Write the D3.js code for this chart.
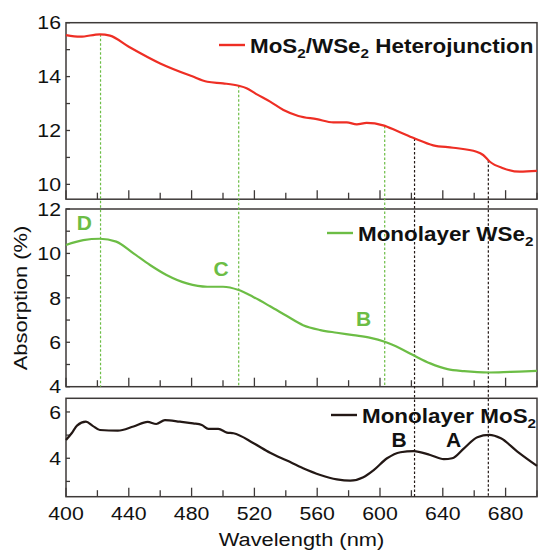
<!DOCTYPE html>
<html><head><meta charset="utf-8">
<script src="https://cdn.jsdelivr.net/npm/d3@7"></script>
<style>body{margin:0;background:#fff}svg{display:block}text{font-family:"Liberation Sans",Arial,sans-serif}</style>
</head><body><svg id="c" width="538" height="551"></svg>
<script>
// ---- data ----
const heteroWl = [400,409,421.6,428,440,460,480,490,500,510,515,521,530,538.5,548,559.7,570.3,578.8,585.2,591.5,602,610.6,621.8,633.9,646.6,661.5,665.7,670,678.4,689,700];
const heteroAbs = [15.54,15.48,15.57,15.52,15.11,14.49,14.02,13.81,13.75,13.66,13.57,13.36,13.07,12.76,12.54,12.42,12.30,12.30,12.23,12.28,12.19,11.99,11.71,11.45,11.36,11.21,11.09,10.84,10.60,10.47,10.50];
const wse2Wl = [400,411,421.6,432,443,453.5,464,477,490,500,510,519,530,540.7,551,562,572.5,583,594,603,613,622,632,643,653.5,669.5,683,700];
const wse2Abs = [10.38,10.60,10.66,10.53,10.0,9.48,9.03,8.65,8.50,8.50,8.35,8.05,7.62,7.18,6.77,6.55,6.43,6.32,6.20,6.02,5.72,5.39,5.05,4.79,4.70,4.64,4.67,4.71];
const mos2Wl = [400,403.6,407,412.7,417,421.6,433,443,452,457.5,463,472.6,481,486.5,490.7,497,502.5,506.7,519.5,530,540.7,551,562,572.5,581,589.4,596,604.5,613,621.5,632,640.7,646,653.5,662,669.5,677,687.5,700];
const mos2Abs = [4.79,5.08,5.41,5.58,5.40,5.22,5.19,5.37,5.57,5.48,5.65,5.58,5.51,5.44,5.27,5.27,5.11,5.08,4.65,4.24,3.90,3.57,3.28,3.09,3.03,3.18,3.49,4.0,4.26,4.31,4.14,3.96,4.0,4.43,4.91,5.01,4.86,4.29,3.67];
const xTicks = [400,420,440,460,480,500,520,540,560,580,600,620,640,660,680,700];
const xTickLabels = [400,440,480,520,560,600,640,680];
const topTicks = [10,12,14,16], topMinor = [11,13,15];
const midTicks = [4,6,8,10,12], midMinor = [5,7,9,11];
const botTicks = [4,6], botMinor = [3,5];
const greenMarkers = [422,510,603];
const blackMarkers = [622,669];
const wseLabels = [{t:"D",w:406.8,v:11.05},{t:"C",w:493.9,v:8.98},{t:"B",w:584.7,v:6.73}];
const mosLabels = [{t:"B",w:607.4,v:4.5},{t:"A",w:642,v:4.5}];

const RED="#ee2e24", GREEN="#6cbd45", BLACK="#231815", FRAME="#3e3a39";
const SX = 1.15; // horizontal stretch of the reference typeface
const svg = d3.select("#c");
const x = d3.scaleLinear().domain([400,700]).range([66,537]);
const yTop = d3.scaleLinear().domain([16,9.45]).range([22.7,199.2]);
const yMid = d3.scaleLinear().domain([12,4]).range([209,386.7]);
const yBot = d3.scaleLinear().domain([6.59,2.34]).range([398.3,496.7]);
const tr = (px,py,extra="") => `translate(${px},${py})${extra} scale(${SX},1)`;

function panel(y, major, minor){
  const [y0,y1] = y.range();
  svg.append("g").selectAll("line").data(major.concat(minor)).join("line")
    .attr("x1",x(400)).attr("x2",x(400)+4).attr("y1",d=>y(d)).attr("y2",d=>y(d))
    .attr("stroke",FRAME).attr("stroke-width",1.3);
  svg.append("g").selectAll("text").data(major).join("text")
    .attr("transform",d=>tr(61,y(d))).attr("dy","0.36em").attr("text-anchor","end")
    .attr("font-size",18.5).attr("fill","#111").text(d=>d);
  svg.append("g").selectAll("line").data(xTicks).join("line")
    .attr("x1",d=>x(d)).attr("x2",d=>x(d)).attr("y1",y1)
    .attr("y2",d=> y1 - (xTickLabels.includes(d)?9:6.5))
    .attr("stroke",FRAME).attr("stroke-width",1.3);
  svg.append("rect").attr("x",x(400)).attr("y",y0).attr("width",x(700)-x(400)).attr("height",y1-y0)
    .attr("fill","none").attr("stroke",FRAME).attr("stroke-width",1.5);
}
panel(yTop, topTicks, topMinor);
panel(yMid, midTicks, midMinor);
panel(yBot, botTicks, botMinor);

svg.append("g").selectAll("text").data(xTickLabels).join("text")
  .attr("transform",d=>tr(x(d),520)).attr("text-anchor","middle")
  .attr("font-size",18.5).attr("fill","#111").text(d=>d);
svg.append("text").attr("transform",tr(x(550),546)).attr("text-anchor","middle")
  .attr("font-size",19).attr("fill","#111").text("Wavelength (nm)");
svg.append("text").attr("transform",tr(27,298," rotate(-90)")).attr("text-anchor","middle")
  .attr("font-size",19).attr("fill","#111").text("Absorption (%)");

const redAt = w => d3.scaleLinear().domain(heteroWl).range(heteroAbs)(w);
svg.append("g").selectAll("line").data(greenMarkers).join("line")
  .attr("x1",d=>x(d)).attr("x2",d=>x(d)).attr("y1",d=>yTop(redAt(d))).attr("y2",yMid.range()[1])
  .attr("stroke",GREEN).attr("stroke-width",1.2).attr("stroke-dasharray","2.5,2");
svg.append("g").selectAll("line").data(blackMarkers).join("line")
  .attr("x1",d=>x(d)).attr("x2",d=>x(d)).attr("y1",d=>yTop(redAt(d))).attr("y2",yBot.range()[1])
  .attr("stroke",BLACK).attr("stroke-width",1.2).attr("stroke-dasharray","2.5,2");

function curve(wl, vals, y, color){
  svg.append("path").datum(wl.map((w,i)=>[w,vals[i]]))
    .attr("d",d3.line().x(d=>x(d[0])).y(d=>y(d[1])).curve(d3.curveMonotoneX))
    .attr("fill","none").attr("stroke",color).attr("stroke-width",2.2).attr("stroke-linejoin","round");
}
curve(heteroWl, heteroAbs, yTop, RED);
curve(wse2Wl, wse2Abs, yMid, GREEN);
curve(mos2Wl, mos2Abs, yBot, BLACK);

function legend(lx, ly, color, parts, fs){
  svg.append("line").attr("x1",lx).attr("x2",lx+26).attr("y1",ly).attr("y2",ly)
    .attr("stroke",color).attr("stroke-width",2.4);
  const t = svg.append("text").attr("transform",tr(lx+31,ly+7.5)).attr("font-size",fs)
    .attr("font-weight","bold").attr("fill","#111");
  let low = false;
  parts.forEach(p=>{
    const s = t.append("tspan").text(p.s);
    if(p.sub){ s.attr("font-size",fs*0.68).attr("dy",low?0:5); low = true; }
    else { if(low) s.attr("dy",-5); low = false; }
  });
}
legend(219, 45, RED, [{s:"MoS"},{s:"2",sub:1},{s:"/WSe"},{s:"2",sub:1},{s:" Heterojunction"}], 19.5);
legend(327, 233, GREEN, [{s:"Monolayer WSe"},{s:"2",sub:1}], 19.5);
legend(331, 415, BLACK, [{s:"Monolayer MoS"},{s:"2",sub:1}], 19.5);

svg.append("g").selectAll("text").data(wseLabels).join("text")
  .attr("x",d=>x(d.w)).attr("y",d=>yMid(d.v)).attr("font-size",21).attr("font-weight","bold")
  .attr("fill",GREEN).text(d=>d.t);
svg.append("g").selectAll("text").data(mosLabels).join("text")
  .attr("x",d=>x(d.w)).attr("y",d=>yBot(d.v)).attr("font-size",21).attr("font-weight","bold")
  .attr("fill","#111").text(d=>d.t);
</script></body></html>
